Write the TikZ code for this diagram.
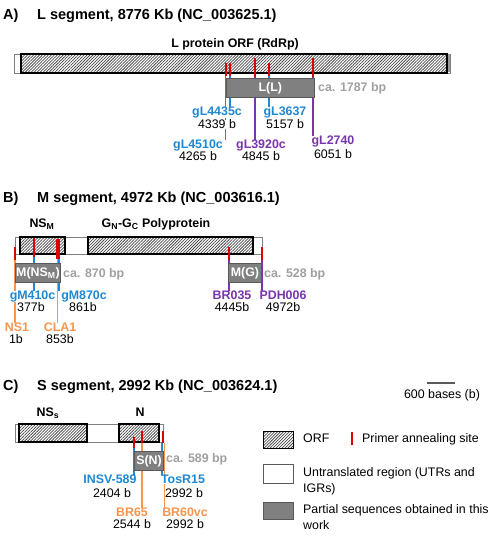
\documentclass[tikz,border=0pt]{standalone}
\usepackage{fontspec}
\setmainfont{Liberation Sans}
\usepackage{xcolor}
\definecolor{primerblue}{RGB}{30,136,210}
\definecolor{primerpurple}{RGB}{122,52,172}
\definecolor{primerorange}{RGB}{246,150,80}
\definecolor{primerred}{RGB}{220,0,0}
\definecolor{seqgrey}{RGB}{128,128,128}
\definecolor{sizegrey}{RGB}{160,160,160}
\usetikzlibrary{patterns.meta,backgrounds}

\begin{document}
\begin{tikzpicture}[x=1pt, y=-1pt,
  every node/.style={inner sep=0pt},
  title/.style={font=\bfseries\fontsize{14.5}{17}\selectfont, anchor=base west},
  lbl/.style={font=\bfseries\fontsize{12.4}{14.9}\selectfont, anchor=base, fill=white},
  num/.style={font=\fontsize{12.4}{14.9}\selectfont, anchor=base, fill=white},
  orfname/.style={font=\bfseries\fontsize{12.4}{14.9}\selectfont, anchor=base},
  size/.style={font=\bfseries\fontsize{12.4}{14.9}\selectfont, anchor=base west, text=sizegrey},
  legtext/.style={font=\fontsize{12.4}{15.5}\selectfont, align=left, anchor=north west},
  utr/.style={draw=black!50, line width=0.9pt, fill=white},
  orf/.style={draw=black, line width=1.1pt, pattern={Lines[angle=45,distance=2.1pt,line width=0.75pt]}, pattern color=black!70},
  seqbox/.style={draw=black!65, line width=1pt, fill=seqgrey, text=white, anchor=north west, minimum height=19pt, font=\bfseries\fontsize{12.4}{14.9}\selectfont},
  tick/.style={draw=primerred, line width=2pt},
  bline/.style={draw=primerblue, line width=1.2pt},
  pline/.style={draw=primerpurple, line width=1.2pt},
  oline/.style={draw=primerorange, line width=1.2pt}]
  \useasboundingbox (0,0) rectangle (493,540);

  % A) L segment
  \node[title] (tA) at (3,20) {A)};
  \node[title] (tAseg) at (37,20) {L segment, 8776 Kb (NC\_003625.1)};
  \node[orfname] (Lorf) at (235,47.5) {L protein ORF (RdRp)};
  \draw[utr] (14,54) rectangle (450,73);
  \fill[black!40] (447,54.5) rectangle (449.5,72.5);
  \draw[orf] (21,54) rectangle (447,73);
  \node[seqbox, minimum width=88.3pt] (LL) at (225.7,78) {L(L)};
  \node[size] (LLsize) at (318,91.5) {ca. 1787 bp};

  % primer sites on L
  \coordinate (a1) at (225.7,76);
  \coordinate (a2) at (230,76);
  \coordinate (a3) at (255,77);
  \coordinate (a4) at (269,76);
  \coordinate (a5) at (313,77);
  \draw[tick] (a1) -- ++(0,-13);
  \draw[tick] (a2) -- ++(0,-13);
  \draw[tick] (a3) -- ++(0,-19);
  \draw[tick] (a4) -- ++(0,-13);
  \draw[tick] (a5) -- ++(0,-19);

  % L primers
  \node[lbl, text=primerblue] (gL4435c) at (217,115.5) {gL4435c};
  \node[num] (n4339) at (217,128.5) {4339 b};
  \node[lbl, text=primerblue] (gL4510c) at (198,148.5) {gL4510c};
  \node[num] (n4265) at (198,160.5) {4265 b};
  \node[lbl, text=primerblue] (gL3637) at (285,115.5) {gL3637};
  \node[num] (n5157) at (285,128.5) {5157 b};
  \node[lbl, text=primerpurple] (gL3920c) at (261,148.5) {gL3920c};
  \node[num] (n4845) at (261,160.5) {4845 b};
  \node[lbl, text=primerpurple] (gL2740) at (333,144.5) {gL2740};
  \node[num] (n6051) at (333,158) {6051 b};

  % B) M segment
  \node[title] (tB) at (3,202) {B)};
  \node[title] (tBseg) at (37,202) {M segment, 4972 Kb (NC\_003616.1)};
  \node[orfname] (NSm) at (42,227.5) {NS\textsubscript{M}};
  \node[orfname] (GnGc) at (156,227.5) {G\textsubscript{N}-G\textsubscript{C} Polyprotein};
  \draw[utr] (15,237) rectangle (262,254);
  \draw[orf] (20,237) rectangle (65,254);
  \draw[orf] (88,237) rectangle (253,254);
  \node[seqbox, minimum width=45pt] (MNS) at (15,263) {M(NS\textsubscript{M})};
  \node[size] (MNSsize) at (63,277.5) {ca. 870 bp};
  \node[seqbox, minimum width=33pt] (MG) at (228,263) {M(G)};
  \node[size] (MGsize) at (264,277.5) {ca. 528 bp};

  % primer sites on M
  \coordinate (b1) at (15,260);
  \coordinate (b2) at (34,257);
  \coordinate (b3) at (57.3,259);
  \coordinate (b4) at (59,259);
  \coordinate (b5) at (229,260);
  \coordinate (b6) at (262,260);
  \draw[tick, line width=2.5pt] (b1) -- ++(0,-13);
  \draw[tick, line width=2.5pt] (b2) -- ++(0,-19);
  \draw[tick, line width=2.5pt] (b3) -- ++(0,-20);
  \draw[tick, line width=2.5pt] (b4) -- ++(0,-20);
  \draw[tick] (b5) -- ++(0,-13);
  \draw[tick, line width=2.5pt] (b6) -- ++(0,-13);

  % M primers
  \node[lbl, text=primerblue] (gM410c) at (32.5,299.5) {gM410c};
  \node[num] (n377) at (31,311.5) {377b};
  \node[lbl, text=primerblue] (gM870c) at (84,299.5) {gM870c};
  \node[num] (n861) at (83,311.5) {861b};
  \node[lbl, text=primerorange] (NS1) at (17,331.5) {NS1};
  \node[num] (n1) at (16,343.5) {1b};
  \node[lbl, text=primerorange] (CLA1) at (60,331.5) {CLA1};
  \node[num] (n853) at (60,343.5) {853b};
  \node[lbl, text=primerpurple] (BR035) at (232,299.5) {BR035};
  \node[num] (n4445) at (232,311.5) {4445b};
  \node[lbl, text=primerpurple] (PDH006) at (283,299.5) {PDH006};
  \node[num] (n4972) at (283,311.5) {4972b};

  % C) S segment
  \node[title] (tC) at (3,390) {C)};
  \node[title] (tCseg) at (37,390) {S segment, 2992 Kb (NC\_003624.1)};
  \draw[line width=2.2pt, black!65] (427,383) -- (455,383);
  \node[num, fill=none] (scale) at (442,398.5) {600 bases (b)};
  \node[orfname] (NSs) at (48,416.5) {NS\textsubscript{s}};
  \node[orfname] (Nn) at (140,416.5) {N};
  \draw[utr] (15,424) rectangle (163,442);
  \draw[orf] (19,424) rectangle (87,442);
  \draw[orf] (119,424) rectangle (159,442);
  \node[seqbox, minimum width=29pt] (SN) at (134,451) {S(N)};
  \node[size] (SNsize) at (166,462.5) {ca. 589 bp};

  % primer sites on S
  \coordinate (c1) at (134,448);
  \coordinate (c2) at (142,443);
  \coordinate (c3) at (163,443);
  \coordinate (c3b) at (162,443);
  \coordinate (c3o) at (164.3,443);
  \draw[tick] (c1) -- ++(0,-11);
  \draw[tick] (c2) -- ++(0,-12);
  \draw[tick] (c3) -- ++(0,-12);

  % S primers
  \node[lbl, text=primerblue] (INSV589) at (110,483.5) {INSV-589};
  \node[num] (n2404) at (112,497.5) {2404 b};
  \node[lbl, text=primerblue] (TosR15) at (183,483.5) {TosR15};
  \node[num] (n2992a) at (184,497.5) {2992 b};
  \node[lbl, text=primerorange] (BR65) at (132,516.5) {BR65};
  \node[num] (n2544) at (132,528.5) {2544 b};
  \node[lbl, text=primerorange] (BR60vc) at (185,516.5) {BR60vc};
  \node[num] (n2992b) at (185,528.5) {2992 b};

  % primer lines behind boxes and labels
  \begin{pgfonlayer}{background}
    \draw[bline] (a1) -- (a1 |- gL4510c.north);
    \draw[bline] (a2) -- (a2 |- gL4435c.north);
    \draw[pline] (a3) -- (a3 |- gL3920c.north);
    \draw[bline] (a4) -- (a4 |- gL3637.north);
    \draw[pline] (a5) -- (a5 |- gL2740.north);
    \draw[oline] (b1) -- (b1 |- NS1.north);
    \draw[bline] (b2) -- (b2 |- gM410c.north);
    \draw[oline] (b3) -- (b3 |- CLA1.north);
    \draw[bline] (b4) -- (b4 |- gM870c.north);
    \draw[pline] (b5) -- (b5 |- BR035.north);
    \draw[pline] (b6) -- (b6 |- PDH006.north);
    \draw[bline] (c1) -- (c1 |- INSV589.north);
    \draw[oline] (c2) -- (c2 |- BR65.north);
    \draw[bline] (c3b) -- (c3b |- TosR15.north);
    \draw[oline] (c3o) -- (c3o |- BR60vc.north);
  \end{pgfonlayer}

  % Legend
  \node[orf, minimum width=30pt, minimum height=17pt, anchor=north west] (legorf) at (263,431) {};
  \node[num, fill=none, anchor=base west] (legorftext) at (303,442.5) {ORF};
  \coordinate (legtick) at (352,445);
  \draw[tick] (legtick) -- ++(0,-13);
  \node[num, fill=none, anchor=base west] (legticktext) at (362,442.5) {Primer annealing site};
  \node[utr, draw=black!65, line width=1.2pt, minimum width=30pt, minimum height=19pt, anchor=north west] (legutr) at (263,464) {};
  \node[legtext] (legutrtext) at (303,467.5) {Untranslated region (UTRs and\\IGRs)};
  \node[seqbox, line width=1.2pt, minimum width=30pt, minimum height=17pt] (legseq) at (263,502) {};
  \node[legtext] (legseqtext) at (303,504.5) {Partial sequences obtained in this\\work};
\end{tikzpicture}
\end{document}
